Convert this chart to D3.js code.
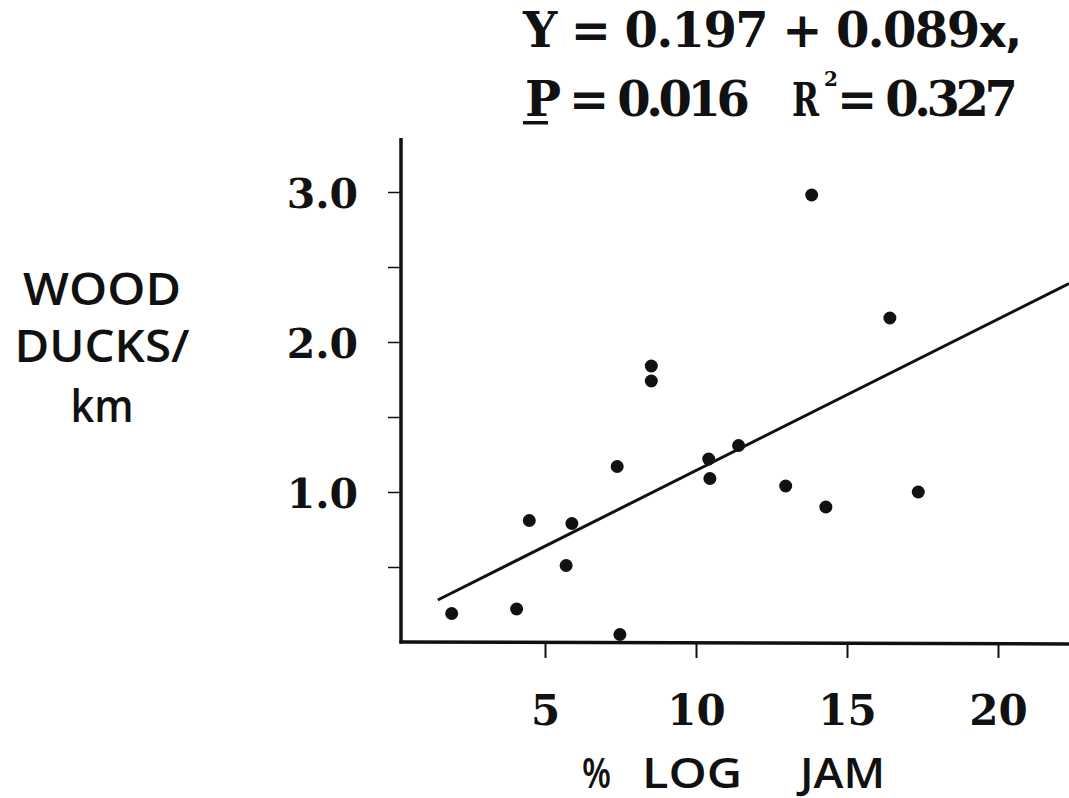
<!DOCTYPE html>
<html>
<head>
<meta charset="utf-8">
<script src="https://cdn.jsdelivr.net/npm/d3@7"></script>
<style>
html, body { margin: 0; padding: 0; background: #fff; }
svg { display: block; }
.serif { font-family: "DejaVu Serif", serif; font-weight: bold; fill: #111; }
.sans { font-family: "Open Sans", sans-serif; font-weight: 600; fill: #111; }
</style>
</head>
<body>
<svg id="chart" width="1069" height="798"></svg>
<script>
"use strict";

// % log jam (x) and wood ducks per km (y)
const logJam = [1.91, 4.06, 7.48, 4.48, 5.89, 5.70, 7.39, 8.52, 8.52, 10.42, 10.46, 11.41, 12.97, 13.83, 16.42, 14.30, 17.36];
const ducksPerKm = [0.19, 0.22, 0.05, 0.81, 0.79, 0.51, 1.17, 1.84, 1.74, 1.22, 1.09, 1.31, 1.04, 2.98, 2.16, 0.90, 1.00];

// ends of the drawn regression line
const fitX = [1.45, 22.35];
const fitY = [0.28, 2.39];

const xTicks = [5, 10, 15, 20];
const yTicks = [0.5, 1, 1.5, 2, 2.5, 3];
const yTitle = ['WOOD', 'DUCKS/', 'km'];
const xTitle = '% LOG JAM';

(() => {
	const W = 1069;
	const axisX = 401, axisY = 642;
	const svg = d3.select('#chart');

	const x = d3.scaleLinear().domain([0, 22.5]).range([394, 394 + 22.5 * 30.2]);
	const y = d3.scaleLinear().domain([0, 3.36]).range([axisY, 138]);

	// x axis
	const gx = svg.append('g')
		.attr('transform', `translate(0,${axisY})`)
		.call(d3.axisBottom(x).tickValues(xTicks).tickSize(16).tickPadding(0).tickFormat(d3.format('d')));
	gx.select('.domain').remove();
	gx.selectAll('.tick line').attr('stroke', '#111').attr('stroke-width', 2);
	gx.selectAll('.tick text')
		.attr('class', 'serif')
		.attr('font-size', 42)
		.attr('y', 83)
		.attr('dy', null);

	// y axis
	const gy = svg.append('g')
		.attr('transform', `translate(${axisX},0)`)
		.call(d3.axisLeft(y).tickValues(yTicks).tickSize(13).tickPadding(30)
			.tickFormat((d) => Number.isInteger(d) ? d.toFixed(1) : ''));
	gy.select('.domain').remove();
	gy.selectAll('.tick line').attr('stroke', '#111').attr('stroke-width', 1.5);
	gy.selectAll('.tick text')
		.attr('class', 'serif')
		.attr('font-size', 41)
		.attr('dy', 15);

	// axis lines
	svg.append('line')
		.attr('x1', axisX).attr('x2', axisX)
		.attr('y1', y(3.36)).attr('y2', axisY + 1.5)
		.attr('stroke', '#111').attr('stroke-width', 3.5);
	svg.append('line')
		.attr('x1', axisX - 1.5).attr('x2', W)
		.attr('y1', axisY).attr('y2', axisY + 2)
		.attr('stroke', '#111').attr('stroke-width', 3.5);

	// regression line
	svg.append('path')
		.datum(fitX.map((v, i) => [v, fitY[i]]))
		.attr('d', d3.line().x((d) => x(d[0])).y((d) => y(d[1])))
		.attr('fill', 'none')
		.attr('stroke', '#111')
		.attr('stroke-width', 3);

	// points
	svg.append('g')
		.selectAll('circle')
		.data(logJam.map((v, i) => ({ x: v, y: ducksPerKm[i] })))
		.enter()
		.append('circle')
		.attr('cx', (d) => x(d.x))
		.attr('cy', (d) => y(d.y))
		.attr('r', 6.5)
		.attr('fill', '#111');

	// y title, stacked
	const ty = [305, 362, 422];
	const tw = [158, 175, 63];
	svg.append('g')
		.selectAll('text')
		.data(yTitle)
		.enter()
		.append('text')
		.attr('class', 'sans')
		.attr('font-size', 46)
		.attr('text-anchor', 'middle')
		.attr('x', 102)
		.attr('y', (d, i) => ty[i])
		.attr('textLength', (d, i) => tw[i])
		.attr('lengthAdjust', 'spacingAndGlyphs')
		.text((d) => d);

	// x title, word by word (wide word gaps in the original)
	const wx = [582, 642, 800];
	const ww = [29, 100, 85];
	svg.append('g')
		.selectAll('text')
		.data(xTitle.split(' '))
		.enter()
		.append('text')
		.attr('class', 'sans')
		.attr('font-size', 41)
		.attr('x', (d, i) => wx[i])
		.attr('y', 788)
		.attr('textLength', (d, i) => ww[i])
		.attr('lengthAdjust', 'spacingAndGlyphs')
		.text((d) => d);

	// equation block
	const eq1 = svg.append('text')
		.attr('class', 'serif')
		.attr('font-size', 48)
		.attr('x', 523)
		.attr('y', 47)
		.attr('textLength', 499)
		.attr('lengthAdjust', 'spacing');
	eq1.append('tspan').text('Y = 0.197 + 0.089');
	eq1.append('tspan').attr('font-family', '"DejaVu Sans", sans-serif').attr('font-size', 44).text('x,');

	svg.append('text')
		.attr('class', 'serif')
		.attr('font-size', 48)
		.attr('x', 525)
		.attr('y', 116)
		.attr('textLength', 225)
		.attr('lengthAdjust', 'spacing')
		.text('P = 0.016');
	svg.append('rect')
		.attr('x', 523).attr('y', 121)
		.attr('width', 25).attr('height', 3.5)
		.attr('fill', '#111');
	svg.append('text')
		.attr('class', 'serif')
		.attr('font-family', '"DejaVu Sans", sans-serif')
		.attr('font-weight', 'normal')
		.attr('font-size', 46)
		.attr('x', 792)
		.attr('y', 116)
		.attr('textLength', 27)
		.attr('lengthAdjust', 'spacingAndGlyphs')
		.text('R');
	svg.append('text')
		.attr('class', 'serif')
		.attr('font-weight', 'normal')
		.attr('font-size', 20)
		.attr('x', 824)
		.attr('y', 86)
		.text('2');
	svg.append('text')
		.attr('class', 'serif')
		.attr('font-size', 48)
		.attr('x', 837)
		.attr('y', 116)
		.attr('textLength', 181)
		.attr('lengthAdjust', 'spacing')
		.text('= 0.327');
})();
</script>
</body>
</html>
